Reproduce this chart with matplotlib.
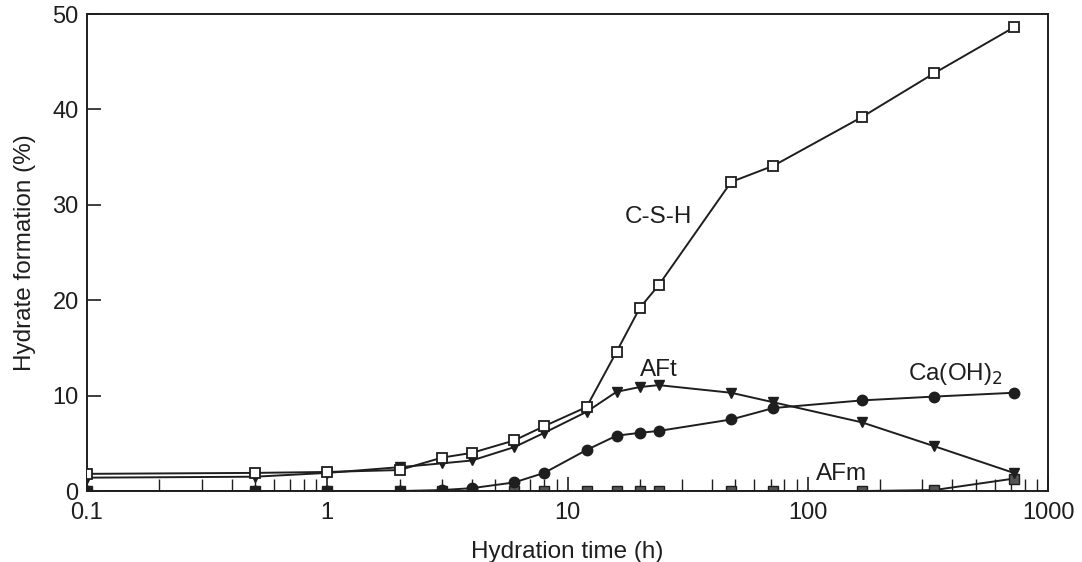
import numpy as np
import matplotlib
matplotlib.use("Agg")
import matplotlib.pyplot as plt
from matplotlib.ticker import LogLocator, FixedLocator, NullFormatter

plt.rcParams["font.family"] = ["Liberation Sans", "DejaVu Sans"]

# hydration time (h)
hours = [0.1, 0.5, 1, 2, 3, 4, 6, 8, 12, 16, 20, 24, 48, 72, 168, 336, 720]

# hydrate formation (%)
csh = [1.8, 1.9, 2.0, 2.2, 3.5, 4.0, 5.3, 6.8, 8.8, 14.6, 19.2, 21.6, 32.4, 34.1, 39.2, 43.8, 48.6]
aft = [1.4, 1.5, 1.9, 2.5, 2.9, 3.2, 4.6, 6.1, 8.3, 10.4, 10.9, 11.1, 10.3, 9.3, 7.2, 4.7, 1.9]
caoh2 = [0.0, 0.0, 0.0, 0.0, 0.1, 0.3, 0.9, 1.9, 4.3, 5.8, 6.1, 6.3, 7.5, 8.7, 9.5, 9.9, 10.3]
afm = [0.0, 0.0, 0.0, 0.0, 0.0, 0.0, 0.0, 0.0, 0.0, 0.0, 0.0, 0.0, 0.0, 0.0, 0.0, 0.1, 1.3]

ink = "#1e1e1e"

fig = plt.figure(figsize=(10.82, 5.62), dpi=100)
ax = fig.add_axes([0.0804, 0.1263, 0.8882, 0.8487])

ax.plot(hours, afm, color=ink, lw=1.4, marker="s", ms=7.5, mfc="#555555", mec=ink, zorder=2)
ax.plot(hours, caoh2, color=ink, lw=1.4, marker="o", ms=7.5, mfc=ink, mec=ink, zorder=3)
ax.plot(hours, aft, color=ink, lw=1.4, marker="v", ms=7.5, mfc=ink, mec=ink, zorder=4)
ax.plot(hours, csh, color=ink, lw=1.4, marker="s", ms=7.5, mfc="white", mec=ink, mew=1.3, zorder=5)

ax.text(24, 28.7, "C-S-H", ha="center", va="center", fontsize=17.5, color=ink)
ax.text(24, 12.7, "AFt", ha="center", va="center", fontsize=17.5, color=ink)
ax.text(410, 12.3, "Ca(OH)$_2$", ha="center", va="center", fontsize=17.5, color=ink)
ax.text(138, 1.8, "AFm", ha="center", va="center", fontsize=17.5, color=ink)

ax.set_xscale("log")
ax.set_xlim(0.1, 1000)
ax.set_ylim(0, 50)
ax.xaxis.set_major_locator(FixedLocator([0.1, 1, 10, 100, 1000]))
ax.set_xticklabels(["0.1", "1", "10", "100", "1000"])
ax.xaxis.set_minor_locator(LogLocator(base=10, subs=np.arange(2, 10)))
ax.xaxis.set_minor_formatter(NullFormatter())
ax.set_yticks([0, 10, 20, 30, 40, 50])

ax.tick_params(axis="both", which="major", direction="in", length=10, width=1.2,
               labelsize=17, colors=ink, pad=8)
ax.tick_params(axis="y", which="major", pad=6)
ax.tick_params(axis="x", which="minor", direction="in", length=9, width=1.0, colors=ink)
for s in ax.spines.values():
    s.set_linewidth(1.4)
    s.set_color(ink)

ax.set_xlabel("Hydration time (h)", fontsize=17.5, color=ink, labelpad=12)
ax.set_ylabel("Hydrate formation (%)", fontsize=17.5, color=ink, labelpad=12)

fig.savefig("out.png", dpi=100, facecolor="white")
